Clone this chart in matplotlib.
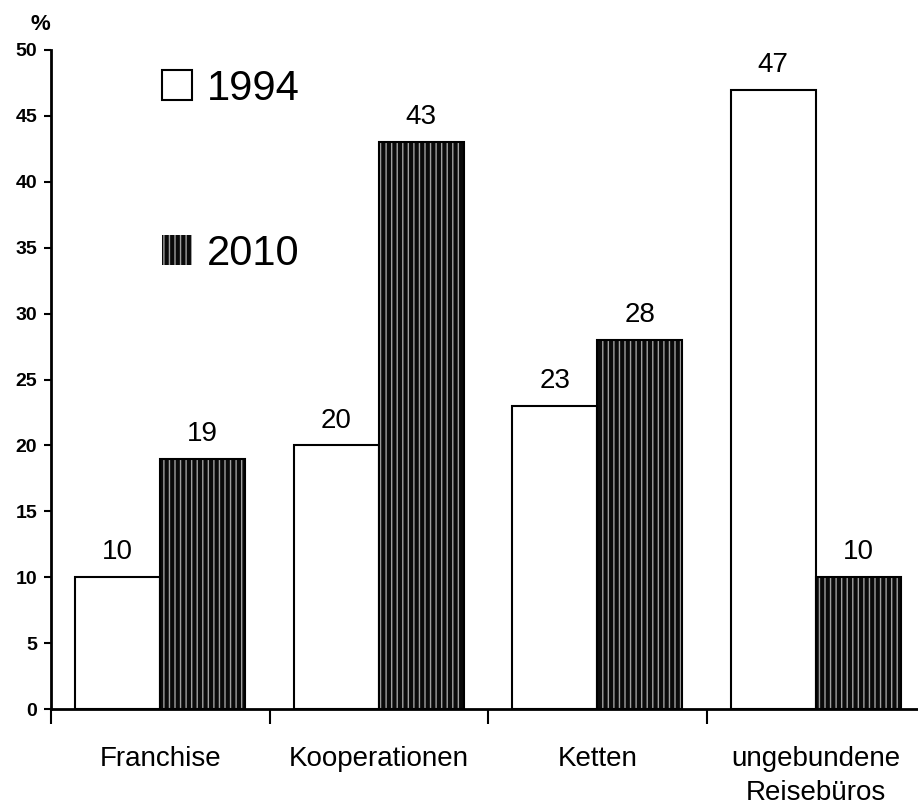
import matplotlib
matplotlib.use("Agg")
import matplotlib.pyplot as plt
import numpy as np

categories = ["Franchise", "Kooperationen", "Ketten", "ungebundene\nReisebüros"]
values_1994 = [10, 20, 23, 47]
values_2010 = [19, 43, 28, 10]
series_labels = ["1994", "2010"]
yticks = [0, 5, 10, 15, 20, 25, 30, 35, 40, 45, 50]

plt.rcParams['font.family'] = ['Liberation Sans', 'DejaVu Sans']
plt.rcParams['hatch.linewidth'] = 1.0

fig = plt.figure(figsize=(9.18, 8.09), dpi=100)
ax = fig.add_axes([51/918, 1 - 709/809, 874/918, (709 - 50)/809])

x = np.arange(len(categories))
w = 0.39

b1 = ax.bar(x - w/2, values_1994, width=w, facecolor='white', edgecolor='black',
            linewidth=1.5, label=series_labels[0], zorder=2)
b2 = ax.bar(x + w/2, values_2010, width=w, facecolor='#0a0a0a', edgecolor='#a0a0a0',
            hatch='|||', linewidth=0, label=series_labels[1], zorder=2)
ax.bar(x + w/2, values_2010, width=w, fill=False, edgecolor='black', linewidth=1.5, zorder=3)

for xi, v in zip(x - w/2, values_1994):
    ax.text(xi, v + 0.9, str(v), ha='center', va='bottom', fontsize=20)
for xi, v in zip(x + w/2, values_2010):
    ax.text(xi, v + 0.9, str(v), ha='center', va='bottom', fontsize=20)

ax.set_xlim(-0.5, len(categories) - 0.5)
ax.set_ylim(0, 50)
ax.set_yticks(yticks)
ax.set_yticklabels([str(t) for t in yticks], fontsize=14, fontweight='bold')
ax.tick_params(axis='y', direction='out', length=5, width=1.5, pad=5)

ax.set_xticks(np.arange(len(categories) + 1) - 0.5)
ax.set_xticklabels([''] * (len(categories) + 1))
ax.tick_params(axis='x', which='major', direction='out', length=11, width=1.5)
ax.set_xticks(x, minor=True)
ax.set_xticklabels(categories, minor=True, fontsize=20, linespacing=1.35)
ax.tick_params(axis='x', which='minor', length=0, pad=27)

for s in ['top', 'right']:
    ax.spines[s].set_visible(False)
ax.spines['left'].set_linewidth(2)
ax.spines['bottom'].set_linewidth(2)

fig.text(40/918, 1 - 24/809, '%', ha='center', va='center', fontsize=16, fontweight='bold')

leg = ax.legend(handles=[b1, b2], loc='upper left', bbox_to_anchor=(0.108, 0.997),
                frameon=False, fontsize=30, handlelength=0.72, handleheight=0.72,
                handletextpad=0.35, labelspacing=3.0, borderaxespad=0)

fig.savefig("out.png", dpi=100)
